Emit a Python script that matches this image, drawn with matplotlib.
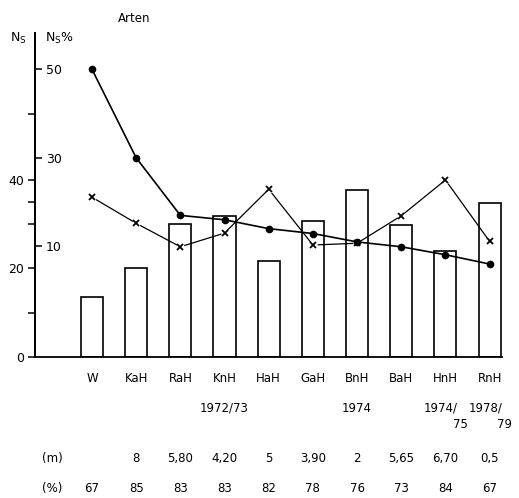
import matplotlib
matplotlib.use("Agg")
import matplotlib.pyplot as plt
import matplotlib.transforms as mtransforms
from matplotlib.ticker import FixedLocator, NullFormatter

# ---- data ----
categories = ["W", "KaH", "RaH", "KnH", "HaH", "GaH", "BnH", "BaH", "HnH", "RnH"]
bars_ns = [13.6, 20.0, 30.0, 31.9, 21.8, 30.7, 37.7, 29.8, 23.9, 34.7]          # N_s (left axis)
cross_ns = [36.1, 30.2, 24.9, 28.0, 37.9, 25.3, 25.7, 31.9, 40.0, 26.1]        # N_s (left axis)
dots_pct = [50.0, 30.0, 17.0, 16.0, 14.0, 12.9, 11.0, 9.9, 8.1, 6.0]            # N_s% (inner axis)
years = {3: "1972/73", 6: "1974"}
years_split = {8: ("1974/", "75"), 9: ("1978/", "79")}
m_row = ["", "8", "5,80", "4,20", "5", "3,90", "2", "5,65", "6,70", "0,5"]
pct_row = ["67", "85", "83", "83", "82", "78", "76", "73", "84", "67"]
left_ticks = [0, 20, 40]
left_minor = [10, 30]
right_ticks = [10, 30, 50]
right_minor = [20, 40]
pct_offset = 15

W, H = 519, 498
fig = plt.figure(figsize=(W / 100, H / 100), dpi=100)
x0, x1, yb, yt = 35, 502, 357, 33
ax = fig.add_axes([x0 / W, 1 - yb / H, (x1 - x0) / W, (yb - yt) / H])
ax.set_xlim(-1.29, 9.28)
ax.set_ylim(0, 73.2)

xs = list(range(len(categories)))
ax.bar(xs, bars_ns, width=0.5, facecolor="white", edgecolor="black", linewidth=1.2, zorder=1)

# crosses on left axis
ax.plot(xs, cross_ns, color="black", lw=0.9, zorder=2)
ax.plot(xs, cross_ns, ls="none", marker="o", ms=6, mfc="white", mec="none", zorder=3)
ax.plot(xs, cross_ns, ls="none", marker="x", ms=5, mew=1.3, color="black", zorder=4)

for s in ["top", "right"]:
    ax.spines[s].set_visible(False)
ax.spines["left"].set_linewidth(1.3)
ax.spines["bottom"].set_linewidth(1.3)
ax.set_xticks([])
ax.yaxis.set_major_locator(FixedLocator(left_ticks))
ax.yaxis.set_minor_locator(FixedLocator(left_minor))
ax.yaxis.set_minor_formatter(NullFormatter())
ax.set_yticklabels([str(v) for v in left_ticks])
ax.tick_params(axis="y", which="both", direction="out", length=5, width=1.1, labelsize=9, pad=3)

# inner percent axis on the same spine
ax2 = ax.twinx()
ax2.set_ylim(0 - pct_offset, 73.2 - pct_offset)
ax2.spines["right"].set_position(("axes", 0))
for s in ["top", "left", "bottom"]:
    ax2.spines[s].set_visible(False)
ax2.spines["right"].set_linewidth(1.3)
ax2.yaxis.set_major_locator(FixedLocator(right_ticks))
ax2.yaxis.set_minor_locator(FixedLocator(right_minor))
ax2.yaxis.set_minor_formatter(NullFormatter())
ax2.set_yticklabels([str(v) for v in right_ticks])
ax2.tick_params(axis="y", which="major", direction="out", length=5, width=1.1, labelsize=9, pad=3)
ax2.tick_params(axis="y", which="minor", direction="in", length=5, width=1.1)
ax2.plot(xs, dots_pct, color="black", lw=1.2, marker="o", ms=4.5, zorder=5)
ax2.set_xlim(ax.get_xlim())

# header texts
fig.text(10 / W, 1 - 38 / H, r"N$_\mathregular{S}$", fontsize=9, va="center", ha="left")
fig.text(45 / W, 1 - 38 / H, r"N$_\mathregular{S}$%", fontsize=9, va="center", ha="left")
fig.text(118 / W, 1 - 19 / H, "Arten", fontsize=8.5, va="center", ha="left")

# bottom texts
tr = mtransforms.blended_transform_factory(ax.transData, fig.transFigure)
def fy(y):
    return 1 - y / H

for i, c in enumerate(categories):
    ax.text(i, fy(378), c, transform=tr, ha="center", va="center", fontsize=8.5)
for i, t in years.items():
    ax.text(i, fy(408), t, transform=tr, ha="center", va="center", fontsize=8.5)
for i, (a, b) in years_split.items():
    ax.text(i - 0.1, fy(408), a, transform=tr, ha="center", va="center", fontsize=8.5)
    ax.text(i + 0.5, fy(424), b, transform=tr, ha="right", va="center", fontsize=8.5)
ax.text(-1.13, fy(458), "(m)", transform=tr, ha="left", va="center", fontsize=8.5)
ax.text(-1.13, fy(488), "(%)", transform=tr, ha="left", va="center", fontsize=8.5)
for i, v in enumerate(m_row):
    ax.text(i, fy(458), v, transform=tr, ha="center", va="center", fontsize=8.5)
for i, v in enumerate(pct_row):
    ax.text(i, fy(488), v, transform=tr, ha="center", va="center", fontsize=8.5)

fig.savefig("out.png", dpi=100)
